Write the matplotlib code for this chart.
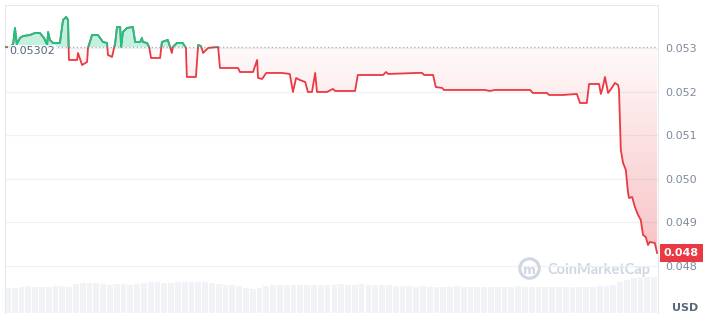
import numpy as np
import matplotlib
matplotlib.use("Agg")
import matplotlib.pyplot as plt
from matplotlib.path import Path
from matplotlib.patches import Rectangle

# 24h price, time in minutes from the start of the window
minutes = [0, 11, 18, 22, 26, 33, 40, 55, 66, 77, 86, 93, 95, 99, 106, 121, 128, 135, 139,
           141, 159, 161, 170, 181, 183, 192, 205, 216, 225, 227, 236, 243, 247, 254, 256,
           260, 269, 282, 287, 298, 302, 304, 313, 318, 322, 342, 346, 359, 364, 368, 370,
           379, 392, 399, 401, 421, 426, 432, 437, 441, 448, 470, 474, 514, 518, 547, 556,
           558, 567, 576, 611, 628, 635, 642, 650, 662, 668, 677, 684, 688, 710, 723, 728,
           772, 778, 834, 840, 845, 908, 920, 924, 944, 950, 964, 968, 1058, 1069, 1080,
           1158, 1164, 1195, 1200, 1230, 1261, 1268, 1283, 1288, 1310, 1314, 1318, 1323,
           1330, 1338, 1345, 1352, 1354, 1358, 1363, 1369, 1374, 1376, 1383, 1389, 1396,
           1402, 1407, 1413, 1418, 1422, 1433, 1438]
prices = [0.053023, 0.053023, 0.053092, 0.053459, 0.053092, 0.053229, 0.053275, 0.053298,
          0.053344, 0.053344, 0.053229, 0.053069, 0.053367, 0.053184, 0.053115, 0.053115,
          0.053642, 0.053711, 0.053642, 0.052725, 0.052725, 0.052885, 0.052610, 0.052679,
          0.053000, 0.053298, 0.053298, 0.053138, 0.053115, 0.052839, 0.052794, 0.053115,
          0.053482, 0.053482, 0.053023, 0.053367, 0.053459, 0.053482, 0.053138, 0.053138,
          0.053229, 0.053138, 0.053115, 0.053023, 0.052771, 0.052771, 0.053138, 0.053184,
          0.053023, 0.052885, 0.053023, 0.053115, 0.053115, 0.053000, 0.052335, 0.052335,
          0.053069, 0.053046, 0.052885, 0.052931, 0.053000, 0.053023, 0.052541, 0.052541,
          0.052449, 0.052449, 0.052725, 0.052312, 0.052289, 0.052427, 0.052427, 0.052404,
          0.051991, 0.052312, 0.052266, 0.052220, 0.051991, 0.051991, 0.052427, 0.051991,
          0.051991, 0.052060, 0.052014, 0.052014, 0.052381, 0.052381, 0.052449, 0.052404,
          0.052427, 0.052427, 0.052381, 0.052381, 0.052105, 0.052083, 0.052037, 0.052037,
          0.052014, 0.052037, 0.052037, 0.051968, 0.051968, 0.051922, 0.051922, 0.051945,
          0.051738, 0.051738, 0.052174, 0.052174, 0.051945, 0.052083, 0.052335, 0.051968,
          0.052083, 0.052197, 0.052151, 0.052037, 0.050660, 0.050362, 0.050202, 0.049674,
          0.049559, 0.049582, 0.049353, 0.049170, 0.049055, 0.048711, 0.048665, 0.048481,
          0.048550, 0.048527, 0.048298]

# volume, 15 minute buckets (relative units)
volume = [25, 25, 26, 27, 26, 26, 26, 27, 27, 26, 29, 30, 30, 30, 29, 28, 29, 29, 28, 29,
          30, 31, 31, 30, 30, 31, 31, 31, 31, 31, 30, 29, 28, 28, 27, 25, 24, 25, 27, 28,
          28, 28, 28, 28, 28, 28, 28, 28, 28, 29, 28, 28, 29, 28, 28, 28, 28, 27, 27, 27,
          26, 27, 26, 26, 26, 26, 27, 26, 26, 26, 26, 26, 26, 26, 26, 27, 26, 26, 26, 26,
          26, 26, 26, 26, 26, 26, 26, 27, 27, 28, 31, 33, 35, 36, 36, 36]

open_price = 0.05302
last_label = "0.048"
yticks = [0.048, 0.049, 0.050, 0.051, 0.052, 0.053]

GREEN = "#16c784"
RED = "#ea3943"
GRID = "#eff2f5"
LABEL = "#808a9d"

t = np.array(minutes, dtype=float)
p = np.array(prices)

fig = plt.figure(figsize=(7.08, 3.21), dpi=100)
ax = fig.add_axes([5 / 708, 8 / 321, 653 / 708, 308 / 321])

# volume underneath, on its own scale
vax = ax.twinx()
vax.set_zorder(0)
ax.set_zorder(1)
ax.patch.set_visible(False)
step = 1440 / len(volume)
vt = np.arange(len(volume)) * step
vax.bar(vt, volume, width=step * 0.85, align="edge", color="#f1f3f6", linewidth=0)
vax.set_ylim(0, max(volume) / 0.117)
vax.set_yticks([])
for s in vax.spines.values():
    s.set_visible(False)

# grid + ticks
ax.set_yticks(yticks)
ax.set_yticklabels([f"{v:.3f}" for v in yticks])
ax.yaxis.tick_right()
ax.tick_params(axis="y", length=0, pad=5, labelsize=8, labelcolor=LABEL)
ax.set_xticks([])
for v in yticks:
    ax.axhline(v, color=GRID, lw=0.9, zorder=0)
for name in ["top", "left", "right"]:
    ax.spines[name].set_color("#e6e9ee")
    ax.spines[name].set_linewidth(0.8)
ax.spines["bottom"].set_visible(False)

# green fill above the open
ax.fill_between(t, p, open_price, where=p >= open_price, interpolate=True,
                color=GREEN, alpha=0.25, linewidth=0, zorder=2)

# red gradient fill below the open
red_poly = ax.fill_between(t, p, open_price, where=p <= open_price, interpolate=True,
                           color="none", linewidth=0)
clip = Path.make_compound_path(*red_poly.get_paths())
n = 256
alpha = np.linspace(0.32, 0.03, n)
rgba = np.zeros((n, 1, 4))
rgba[..., 0] = 0xea / 255
rgba[..., 1] = 0x39 / 255
rgba[..., 2] = 0x43 / 255
rgba[:, 0, 3] = alpha
im = ax.imshow(rgba, extent=[0, 1440, 0.0480, open_price], origin="lower",
               aspect="auto", zorder=2, interpolation="bilinear")
im.set_clip_path(clip, transform=ax.transData)
ax.set_xlim(0, 1440)
ax.set_ylim(0.046921, 0.053986)

# line: red everywhere, green where above the open
ax.plot(t, p, color=RED, lw=1.3, zorder=4, solid_joinstyle="round")
green_line, = ax.plot(t, p, color=GREEN, lw=1.3, zorder=5, solid_joinstyle="round")
green_line.set_clip_path(Rectangle((0, open_price), 1440, 0.002, transform=ax.transData))

ax.axhline(open_price, color="#a6b0c3", lw=0.9, ls=(0, (1, 2)), zorder=3)
ax.annotate(f"{open_price:.5f}", xy=(10, open_price), xytext=(0, -3),
            textcoords="offset points", fontsize=8, color="#58667e", va="center",
            zorder=6, bbox=dict(boxstyle="square,pad=0.1", fc="white", ec="none", alpha=0.85))

# last price tag
ax.annotate(last_label, xy=(1, p[-1]), xycoords=("axes fraction", "data"),
            xytext=(4, 0), textcoords="offset points", fontsize=8, fontweight="bold",
            color="white", va="center", ha="left", annotation_clip=False, zorder=10,
            bbox=dict(boxstyle="square,pad=0.35", fc=RED, ec="none"))

# watermark
fig.text(547 / 708, 1 - 270 / 321, "CoinMarketCap", fontsize=10.5, fontweight="bold",
         family="Lato", color="#cfd6e4", va="center", ha="left", zorder=0)
ax.plot([0.803], [0.145], transform=ax.transAxes, marker="o", ms=14, mfc="none",
        mec="#cfd6e4", mew=2.2, zorder=0)
fig.text(529 / 708, 1 - 271 / 321, "m", fontsize=9, fontweight="bold",
         color="#cfd6e4", va="center", ha="center")

fig.text(672 / 708, 1 - 308 / 321, "USD", fontsize=8, fontweight="bold",
         color="#58667e", va="center", ha="left")

fig.savefig("out.png", dpi=100)
